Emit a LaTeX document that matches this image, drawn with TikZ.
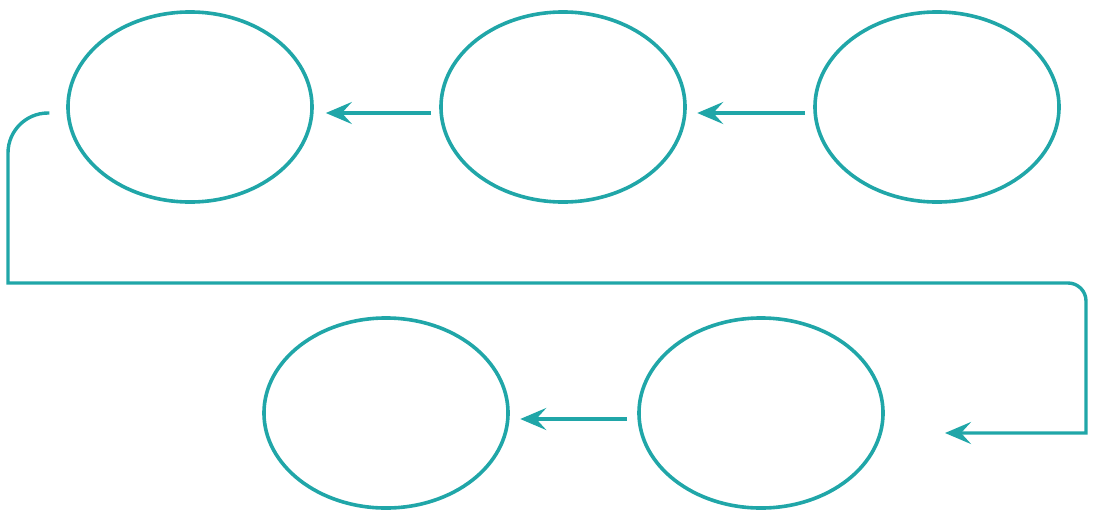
\documentclass[tikz,border=0pt]{standalone}
\usetikzlibrary{shapes.geometric,arrows.meta}
\definecolor{teal1}{RGB}{32,166,168}
\tikzset{
  bubble/.style={draw=teal1, line width=0.09cm, ellipse, minimum width=6.1cm, minimum height=4.75cm, inner sep=0pt},
  link/.style={draw=teal1, line width=0.085cm, -{Stealth[length=0.65cm,width=0.55cm,inset=0.25cm]}}
}
\begin{document}
\begin{tikzpicture}[x=0.025cm,y=-0.025cm]
\useasboundingbox (0,0) rectangle (1096,513);
\node[bubble] (e1) at (190,107) {};
\node[bubble] (e2) at (563,107) {};
\node[bubble] (e3) at (937,107) {};
\node[bubble] (e4) at (386,413) {};
\node[bubble] (e5) at (761,413) {};
\draw[link, shorten <=0.2cm, shorten >=0.3cm] ([yshift=-0.15cm]e2.west) -- ([yshift=-0.15cm]e1.east);
\draw[link, shorten <=0.2cm, shorten >=0.26cm] ([yshift=-0.15cm]e3.west) -- ([yshift=-0.15cm]e2.east);
\draw[link, shorten <=0.25cm, shorten >=0.26cm] ([yshift=-0.15cm]e5.west) -- ([yshift=-0.15cm]e4.east);
\coordinate (s) at ([xshift=-0.42cm,yshift=-0.15cm]e1.west);
\coordinate (t) at (945,433);
\draw[link] (s) [rounded corners=1cm] -- (8,113) [sharp corners] -- (8,283) [rounded corners=0.45cm] -- (1086,283) [sharp corners] -- (1086,433) -- (t);
\end{tikzpicture}
\end{document}
